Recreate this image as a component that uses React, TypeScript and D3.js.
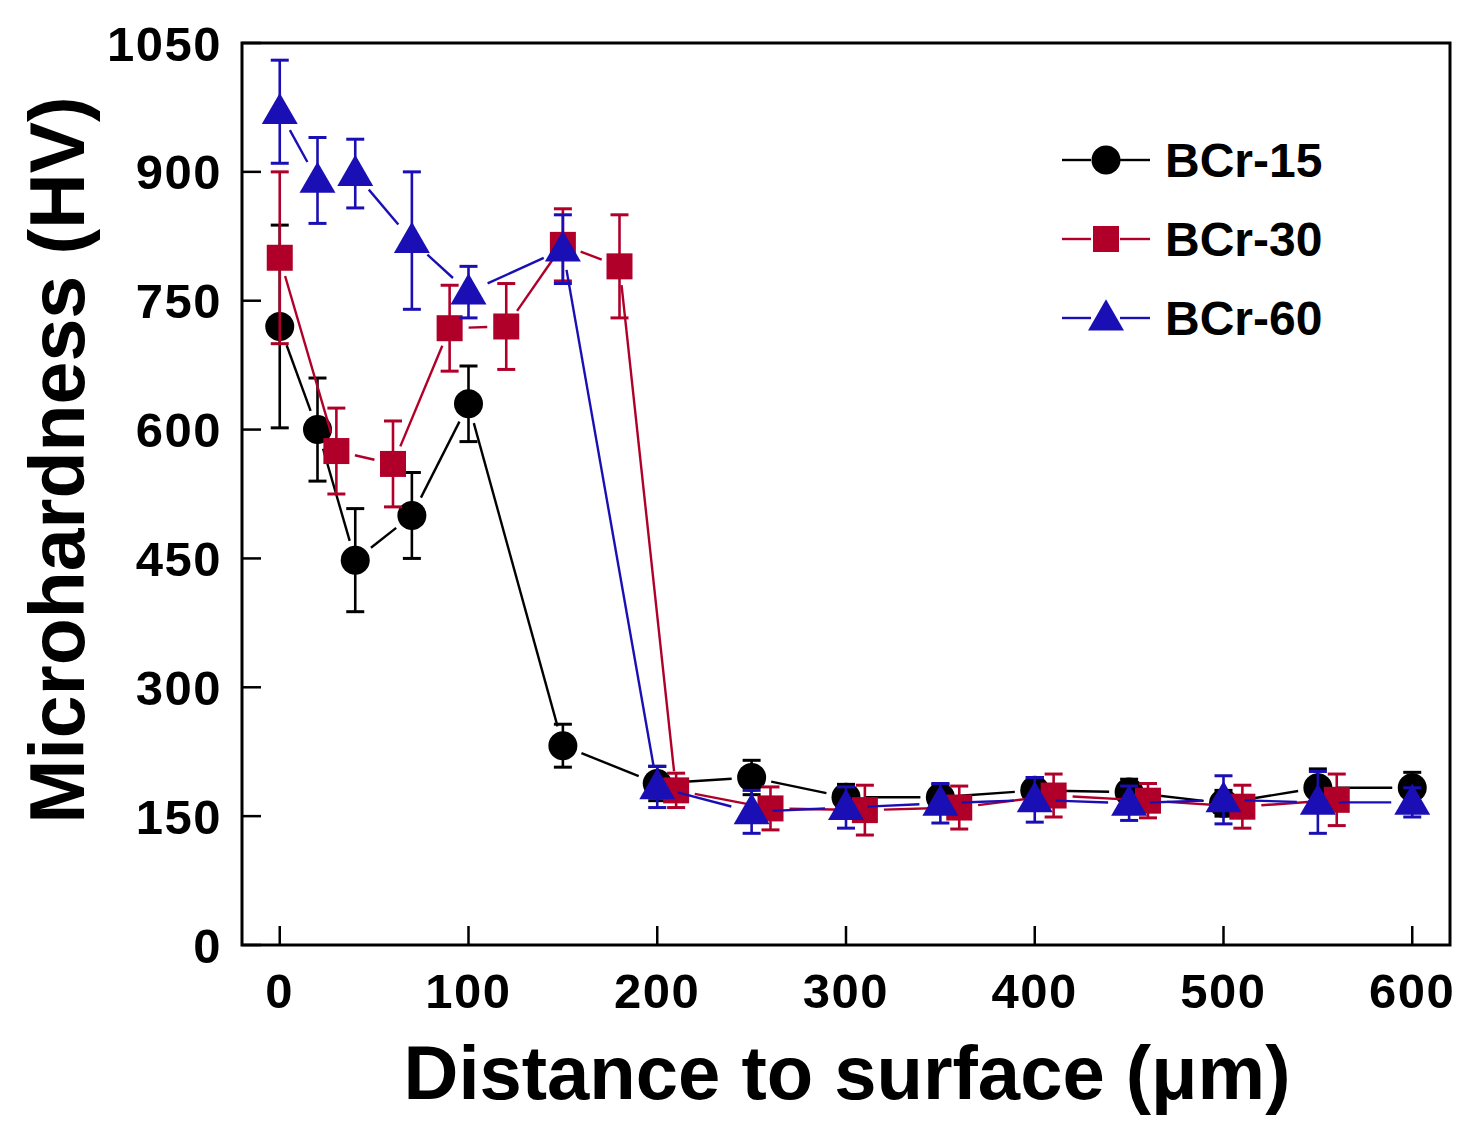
//@ts-nocheck
import { useEffect, useRef } from 'react';
import * as d3 from 'd3';

// distance to surface (µm), hardness (HV) and error (HV)
const x15 = [0, 20, 40, 70, 100, 150, 200, 250, 300, 350, 400, 450, 500, 550, 600];
const y15 = [720, 600, 448, 500, 630, 232, 188, 195, 172, 172, 180, 178, 165, 183, 183];
const e15 = [118, 60, 60, 50, 44, 25, 20, 20, 15, 15, 15, 15, 15, 22, 18];

const x30 = [0, 30, 60, 90, 120, 150, 180, 210, 260, 310, 360, 410, 460, 510, 560];
const y30 = [800, 575, 560, 718, 720, 815, 790, 180, 159, 157, 160, 174, 168, 161, 169];
const e30 = [100, 50, 50, 50, 50, 42, 60, 20, 25, 29, 25, 25, 20, 25, 30];

const x60 = [0, 20, 40, 70, 100, 150, 200, 250, 300, 350, 400, 450, 500, 550, 600];
const y60 = [970, 890, 898, 820, 760, 810, 184, 155, 160, 165, 169, 165, 169, 166, 166];
const e60 = [60, 50, 40, 80, 30, 40, 24, 25, 24, 23, 26, 20, 28, 36, 17];

const xTicks = [0, 100, 200, 300, 400, 500, 600];
const yTicks = [0, 150, 300, 450, 600, 750, 900, 1050];

const seriesNames = ['BCr-15', 'BCr-30', 'BCr-60'];

const FONT = '"Liberation Sans", Arial, sans-serif';

const App = () => {
    const svgRef = useRef();

    useEffect(() => {
        const svg = d3.select(svgRef.current);
        svg.selectAll('*').remove();

        const left = 242, right = 1450, top = 43, bottom = 945;
        const x = d3.scaleLinear().domain([-20, 620]).range([left, right]);
        const y = d3.scaleLinear().domain([0, 1050]).range([bottom, top]);

        const series = [
            { xs: x15, ys: y15, es: e15, color: '#000000', shape: 'circle', gap: 20 },
            { xs: x30, ys: y30, es: e30, color: '#b0002a', shape: 'square', gap: 19 },
            { xs: x60, ys: y60, es: e60, color: '#1a0fb4', shape: 'triangle', gap: 21 },
        ];

        const drawMarker = (g, shape, cx, cy, color) => {
            if (shape === 'circle') {
                g.append('circle').attr('cx', cx).attr('cy', cy).attr('r', 14.5).attr('fill', color);
            } else if (shape === 'square') {
                g.append('rect').attr('x', cx - 13).attr('y', cy - 13).attr('width', 26).attr('height', 26).attr('fill', color);
            } else {
                const sym = d3.symbol().type(d3.symbolTriangle).size(560);
                g.append('path').attr('transform', `translate(${cx},${cy + 2})`).attr('d', sym()).attr('fill', color);
            }
        };

        // frame
        svg.append('rect')
            .attr('x', left).attr('y', top)
            .attr('width', right - left).attr('height', bottom - top)
            .attr('fill', 'none').attr('stroke', '#000').attr('stroke-width', 3);

        // ticks (inward)
        yTicks.forEach(t => {
            svg.append('line')
                .attr('x1', left).attr('x2', left + 19)
                .attr('y1', y(t)).attr('y2', y(t))
                .attr('stroke', '#000').attr('stroke-width', 2.5);
            svg.append('text')
                .attr('x', 222).attr('y', y(t))
                .attr('dy', '0.36em')
                .attr('text-anchor', 'end')
                .style('font-family', FONT).style('font-weight', 'bold').style('font-size', '49px')
                .style('letter-spacing', '1.5px')
                .text(t);
        });
        xTicks.forEach(t => {
            svg.append('line')
                .attr('x1', x(t)).attr('x2', x(t))
                .attr('y1', bottom).attr('y2', bottom - 19)
                .attr('stroke', '#000').attr('stroke-width', 2.5);
            svg.append('text')
                .attr('x', x(t)).attr('y', 1008)
                .attr('text-anchor', 'middle')
                .style('font-family', FONT).style('font-weight', 'bold').style('font-size', '49px')
                .style('letter-spacing', '1.5px')
                .text(t);
        });

        // axis titles
        svg.append('text')
            .attr('x', (left + right) / 2 + 1).attr('y', 1099)
            .attr('text-anchor', 'middle')
            .style('font-family', FONT).style('font-weight', 'bold').style('font-size', '76px')
            .text('Distance to surface (μm)');
        svg.append('text')
            .attr('transform', 'translate(84, 460) rotate(-90)')
            .attr('text-anchor', 'middle')
            .style('font-family', FONT).style('font-weight', 'bold').style('font-size', '77px')
            .text('Microhardness (HV)');

        // series: lines with gaps at markers, error bars, markers
        series.forEach(s => {
            const g = svg.append('g');
            const pts = s.xs.map((v, i) => [x(v), y(s.ys[i])]);
            for (let i = 0; i < pts.length - 1; i++) {
                const [ax, ay] = pts[i];
                const [bx, by] = pts[i + 1];
                const len = Math.hypot(bx - ax, by - ay);
                if (len <= 2 * s.gap) continue;
                const ux = (bx - ax) / len, uy = (by - ay) / len;
                g.append('line')
                    .attr('x1', ax + ux * s.gap).attr('y1', ay + uy * s.gap)
                    .attr('x2', bx - ux * s.gap).attr('y2', by - uy * s.gap)
                    .attr('stroke', s.color).attr('stroke-width', 2.4);
            }
            s.xs.forEach((v, i) => {
                const cx = x(v);
                const lo = y(s.ys[i] - s.es[i]);
                const hi = y(s.ys[i] + s.es[i]);
                g.append('line').attr('x1', cx).attr('x2', cx).attr('y1', lo).attr('y2', hi)
                    .attr('stroke', s.color).attr('stroke-width', 2.6);
                [lo, hi].forEach(yy => {
                    g.append('line').attr('x1', cx - 9).attr('x2', cx + 9).attr('y1', yy).attr('y2', yy)
                        .attr('stroke', s.color).attr('stroke-width', 3);
                });
            });
            pts.forEach(([cx, cy]) => drawMarker(g, s.shape, cx, cy, s.color));
        });

        // legend
        const legendY = [160, 239, 318];
        series.forEach((s, i) => {
            const lg = svg.append('g').attr('transform', `translate(0, ${legendY[i]})`);
            lg.append('line').attr('x1', 1062).attr('x2', 1091).attr('y1', 0).attr('y2', 0)
                .attr('stroke', s.color).attr('stroke-width', 2.4);
            lg.append('line').attr('x1', 1120).attr('x2', 1150).attr('y1', 0).attr('y2', 0)
                .attr('stroke', s.color).attr('stroke-width', 2.4);
            drawMarker(lg, s.shape, 1106, 0, s.color);
            lg.append('text')
                .attr('x', 1165).attr('y', 0).attr('dy', '0.36em')
                .style('font-family', FONT).style('font-weight', 'bold').style('font-size', '48px')
                .text(seriesNames[i]);
        });
    }, []);

    return (
        <svg ref={svgRef} width={1484} height={1144}
            style={{ position: 'absolute', left: 0, top: 0, background: '#fff' }}></svg>
    );
};

export default App;
